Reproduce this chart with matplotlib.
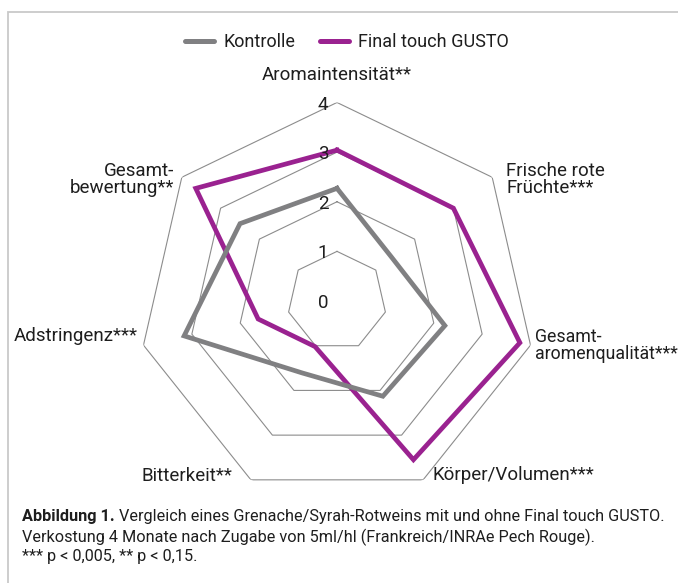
import matplotlib
matplotlib.use("Agg")
import matplotlib.pyplot as plt
from matplotlib.lines import Line2D
from matplotlib.patches import Rectangle
import numpy as np

plt.rcParams['font.family'] = ['Roboto', 'DejaVu Sans']

# data
categories = ['Aromaintensität**', 'Frische rote\nFrüchte***', 'Gesamt-\naromenqualität***',
              'Körper/Volumen***', 'Bitterkeit**', 'Adstringenz***', 'Gesamt-\nbewertung**']
kontrolle = [2.27, 1.41, 2.23, 2.13, 1.61, 3.16, 2.5]
gusto = [3.04, 3.0, 3.78, 3.55, 1.02, 1.63, 3.64]
series_names = ['Kontrolle', 'Final touch GUSTO']
levels = [1, 2, 3, 4]
tick_labels = ['0', '1', '2', '3', '4']

grey = '#808082'
purple = '#9a2290'
grid_col = '#8c8c8c'
txt = '#1e1e1e'

W, H = 678, 583
fig = plt.figure(figsize=(W / 100, H / 100), dpi=100)

cx, cy, R = 337, 301, 198.5
ax = fig.add_axes([(cx - R) / W, (H - cy - R) / H, 2 * R / W, 2 * R / H], polar=True)
ax.set_theta_zero_location('N')
ax.set_theta_direction(-1)
ax.set_ylim(0, 4)
ax.grid(False)
ax.spines['polar'].set_visible(False)
ax.set_xticks([])
ax.set_yticks([])
ax.patch.set_alpha(0)

n = len(categories)
theta = np.arange(n) * 2 * np.pi / n
theta_c = np.append(theta, theta[0])

for lv in levels:
    ax.plot(theta_c, [lv] * (n + 1), color=grid_col, lw=0.8, zorder=1)

ax.plot(theta_c, gusto + gusto[:1], color=purple, lw=3.4, zorder=3, solid_joinstyle='miter')
ax.plot(theta_c, kontrolle + kontrolle[:1], color=grey, lw=3.4, zorder=4, solid_joinstyle='miter')

# radial tick labels
for k, lab in enumerate(tick_labels):
    ax.annotate(lab, xy=(0, k), xytext=(-14, -2), textcoords='offset pixels',
                ha='center', va='center', fontsize=13.5, color=txt, zorder=5)

# category labels
offsets = [(0, 27, 'center'), (14, -2, 'left'), (4, 0, 'left'), (9, 5, 'left'),
           (-18, 4, 'right'), (-6, 9, 'right'), (-8, -2, 'right')]
sizes = [13.5, 13.5, 12.8, 13.5, 13.5, 13.5, 13.5]
for th, lab, (dx, dy, ha), fs in zip(theta, categories, offsets, sizes):
    ax.annotate(lab, xy=(th, 4), xytext=(dx, dy), textcoords='offset pixels',
                ha=ha, va='center', multialignment=ha, fontsize=fs, color=txt,
                linespacing=0.95, annotation_clip=False)

handles = [Line2D([], [], color=grey, lw=3.6, solid_capstyle='round'),
           Line2D([], [], color=purple, lw=3.6, solid_capstyle='round')]
fig.legend(handles, series_names, loc='center', bbox_to_anchor=(347 / W, 1 - 42 / H),
           ncol=2, frameon=False, handlelength=1.6, handletextpad=0.5,
           columnspacing=1.4, fontsize=13, labelcolor=txt)

# caption
renderer = fig.canvas.get_renderer()
x0 = 22 / W
cap_fs = 11.7
t1 = fig.text(x0, 1 - 517 / H, 'Abbildung 1.', fontsize=cap_fs, fontweight='bold',
              color=txt, va='center')
bb = t1.get_window_extent(renderer)
fig.text(bb.x1 / W + 4 / W, 1 - 517 / H,
         'Vergleich eines Grenache/Syrah-Rotweins mit und ohne Final touch GUSTO.',
         fontsize=cap_fs, color=txt, va='center')
fig.text(x0, 1 - 537 / H,
         'Verkostung 4 Monate nach Zugabe von 5ml/hl (Frankreich/INRAe Pech Rouge).',
         fontsize=cap_fs, color=txt, va='center')
fig.text(x0, 1 - 556 / H, '*** p < 0,005, ** p < 0,15.', fontsize=cap_fs, color=txt, va='center')

# light frame
fig.patches.append(Rectangle((8 / W, -0.1), 1.2, 1 - 12 / H + 0.1, transform=fig.transFigure,
                             fill=False, ec='#c9c9c9', lw=1.3))

fig.savefig('out.png', dpi=100)
